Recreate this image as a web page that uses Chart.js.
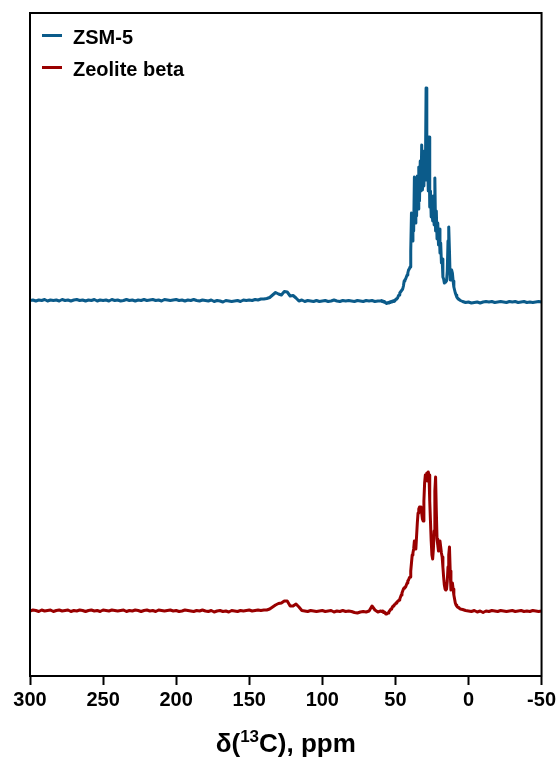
<!DOCTYPE html>
<html>
<head>
<meta charset="utf-8">
<title>13C NMR</title>
<script src="https://cdn.jsdelivr.net/npm/chart.js@4.4.1/dist/chart.umd.min.js"></script>
<style>
html, body { margin: 0; padding: 0; background: #fff; }
canvas { display: block; }
</style>
</head>
<body>
<canvas id="nmrChart" width="559" height="763"></canvas>
<script>
// chemical shift, ppm (dense through the aliphatic region)
const ppm = [
300,298,296,294,292,290,288,286,284,282,
280,278,276,274,272,270,268,266,264,262,
260,258,256,254,252,250,248,246,244,242,
240,238,236,234,232,230,228,226,224,222,
220,218,216,214,212,210,208,206,204,202,
200,198,196,194,192,190,188,186,184,182,
180,178,176,174,172,170,168,166,164,162,
160,158,156,154,152,150,148,146,144,142,
140,138,136,134,132,130,128,126,124,122,
120,118,116,114,112,110,108,106,104,102,
100,98,96,94,92,90,88,86,84,82,
80,78,76,74,72,70,68,66,64,62,
60,59.5,59,58.5,58,57.5,57,56.5,56,55.5,
55,54.5,54,53.5,53,52.5,52,51.5,51,50.5,
50,49.5,49,48.5,48,47.5,47,46.5,46,45.5,
45,44.5,44,43.5,43,42.5,42,41.5,41,40.5,
40,39.5,39,38.5,38,37.5,37,36.5,36,35.5,
35,34.5,34,33.5,33,32.5,32,31.5,31,30.5,
30,29.5,29,28.5,28,27.5,27,26.5,26,25.5,
25,24.5,24,23.5,23,22.5,22,21.5,21,20.5,
20,19.5,19,18.5,18,17.5,17,16.5,16,15.5,
15,14.5,14,13.5,13,12.5,12,11.5,11,10.5,
10,9.5,9,8.5,8,7.5,7,6.5,6,5.5,
4,2,0,-2,-4,-6,-8,-10,-12,-14,
-16,-18,-20,-22,-24,-26,-28,-30,-32,-34,
-36,-38,-40,-42,-44,-46,-48,-50
];

// intensities (a.u.)
const zsm5 = [
0.5,1,0,1,0.5,1.5,0,1,0.5,1,
0,1.5,0.5,1,0,1,1.5,0.5,1,0,
1,0.5,1.5,0,1,0.5,1,0,1.5,0.5,
1,0,0.5,1.5,0.5,1,0,1,0.5,1.5,
0.5,1,1.5,0.5,1,0,1.5,1,0.5,1,
1.5,0.5,1,0,1,0.5,1.5,0.5,0,1,
0.5,0,1,-0.5,0.5,0,-1,0.5,0,-0.5,
0,0.5,-0.5,1,0.5,1,0.5,1.5,1,2,
2,2.5,3.5,6,8.5,7,6,9.5,9,5,
5.5,3,0,1,-0.5,0.5,0,-0.5,0.5,-0.5,
0,0.5,-0.5,0,1,0,-0.5,0.5,0,0.5,
0,-0.5,0.5,0,-0.5,0.5,0,0.5,-0.5,0,
0,0.5,-0.5,0,-1,-0.5,-1.5,-2,-2.5,-2,
-1.5,-2,-1,-1.5,-0.5,-1,0,-0.5,0.5,0,
1,2,2.5,3,5,6,8,9,10,10,
12,15,20,21,22,24,26,28,31,32,
34,50,88,60,78,70,124,78,110,85,
125,92,134,100,140,110,156,111,130,115,
150,121,213,121,150,110,164,94,110,84,
95,80,105,76,123,70,90,62,78,56,
72,48,58,38,42,24,22,18,19,21,
20,30,60,74,50,21,26,31,28,20,
14,11,8,6,4,3,2,1.5,1,0.5,
-0.5,-1.5,-1,-2,-1.5,-1,-2,-1,-0.5,-1,
-0.5,-1.5,-1,-0.5,-1,-1.5,-0.5,-1,-0.5,-1.5,
-1,-0.5,-1.5,-1,-1.5,-1,-0.5,-1
];

const beta = [
0,1,0.5,-0.5,1,0,0.5,1,-0.5,0.5,
1,0,0.5,1,-0.5,0.5,0,1,0.5,-0.5,
0.5,1,0,0.5,-0.5,1,0.5,0,1,0.5,
0,0.5,1,-0.5,0.5,0,1,0.5,-0.5,0.5,
1,0,0.5,-0.5,1,0.5,0,0.5,1,0,
0.5,-0.5,0,1,0.5,0,-0.5,0.5,0,1,
0,-0.5,0.5,-1,0,0.5,-0.5,0,-1,0.5,
0,-0.5,0.5,0,0.5,1,0,0.5,1,0.5,
1,1,2,4,6,7.5,8,10,10,5,
5,7,4,0.5,0,-0.5,0.5,0,-0.5,0,
0.5,-0.5,0,0.5,-1,0,-0.5,0.5,-0.5,0,
-0.5,-1.5,-2,-1,-0.5,-1,0,5,1,-1,
0,-0.5,0,-1,-1.5,-1,-2,-3,-3,-2.5,
-2,-1,0,1,2,2.5,4,5,5.5,6.5,
7,8,9,9.5,10,11,12,14,16,18,
20,22,23,24,24,26,28,30,31,33,
34,40,48,56,58,62,70,66,62,75,
88,98,102,104,100,104,98,92,90,110,
128,136,132,138,130,139,136,110,90,70,
56,52,62,80,120,134,100,72,66,60,
68,70,64,58,54,44,34,26,22,21,
22,30,44,56,64,40,21,24,28,22,
16,12,8,6,5,4,3.5,3,2.5,2,
1.5,0.5,0,-0.5,0.5,-1,0,-1.5,0,-0.5,
0.5,0,-0.5,0.5,0,-0.5,0,0.5,-0.5,0,
0.5,-0.5,0,-0.5,0.5,0,-0.5,0
];

// vertical stacking of the two spectra
const zsmOffset = 375;
const betaOffset = 65;

const FONT = "'Liberation Sans', Arial, sans-serif";

function toPoints(values, offset) {
  return ppm.map((x, i) => ({ x: x, y: values[i] + offset }));
}

// box round the plot area
const frame = {
  id: "frame",
  afterDraw(chart) {
    const a = chart.chartArea;
    const ctx = chart.ctx;
    ctx.save();
    ctx.strokeStyle = "#000";
    ctx.lineWidth = 2;
    ctx.strokeRect(a.left, a.top, a.right - a.left, a.bottom - a.top);
    ctx.restore();
  }
};

// legend drawn inside the top-left corner
const insideLegend = {
  id: "insideLegend",
  afterDraw(chart) {
    const a = chart.chartArea;
    const ctx = chart.ctx;
    ctx.save();
    ctx.font = "bold 20px " + FONT;
    ctx.textBaseline = "middle";
    chart.data.datasets.forEach((ds, i) => {
      const y = a.top + 25 + i * 32;
      ctx.strokeStyle = ds.borderColor;
      ctx.lineWidth = 3;
      ctx.beginPath();
      ctx.moveTo(a.left + 12, y - 2.5);
      ctx.lineTo(a.left + 32, y - 2.5);
      ctx.stroke();
      ctx.fillStyle = "#000";
      ctx.fillText(ds.label, a.left + 43, y);
    });
    ctx.restore();
  }
};

// x axis title with a raised mass number
const axisTitle = {
  id: "axisTitle",
  afterDraw(chart) {
    const a = chart.chartArea;
    const ctx = chart.ctx;
    const big = "bold 26px " + FONT;
    const small = "bold 17px " + FONT;
    const parts = [["δ(", big, 0], ["13", small, -10], ["C), ppm", big, 0]];
    ctx.save();
    ctx.fillStyle = "#000";
    ctx.textBaseline = "alphabetic";
    let total = 0;
    parts.forEach(p => { ctx.font = p[1]; total += ctx.measureText(p[0]).width; });
    let x = (a.left + a.right) / 2 - total / 2;
    const base = chart.height - 11;
    parts.forEach(p => {
      ctx.font = p[1];
      ctx.fillText(p[0], x, base + p[2]);
      x += ctx.measureText(p[0]).width;
    });
    ctx.restore();
  }
};

new Chart(document.getElementById("nmrChart"), {
  type: "line",
  data: {
    datasets: [
      {
        label: "ZSM-5",
        data: toPoints(zsm5, zsmOffset),
        borderColor: "#0b5b8a",
        borderWidth: 3,
        pointRadius: 0,
        tension: 0,
        borderJoinStyle: "round"
      },
      {
        label: "Zeolite beta",
        data: toPoints(beta, betaOffset),
        borderColor: "#990000",
        borderWidth: 3,
        pointRadius: 0,
        tension: 0,
        borderJoinStyle: "round"
      }
    ]
  },
  options: {
    responsive: false,
    animation: false,
    layout: { padding: { left: 30, right: 17, top: 13, bottom: 0 } },
    plugins: {
      legend: { display: false },
      tooltip: { enabled: false }
    },
    scales: {
      x: {
        type: "linear",
        reverse: true,
        min: -50,
        max: 300,
        afterFit(scale) { scale.height = 87; },
        ticks: {
          stepSize: 50,
          padding: 3,
          color: "#000",
          font: { family: FONT, size: 20, weight: "bold" }
        },
        grid: {
          drawOnChartArea: false,
          drawTicks: true,
          tickLength: 9,
          tickWidth: 2,
          tickColor: "#000"
        },
        border: { display: true, color: "#000", width: 2 },
        title: { display: false }
      },
      y: {
        display: false,
        min: 0,
        max: 663
      }
    }
  },
  plugins: [frame, insideLegend, axisTitle]
});
</script>
</body>
</html>
